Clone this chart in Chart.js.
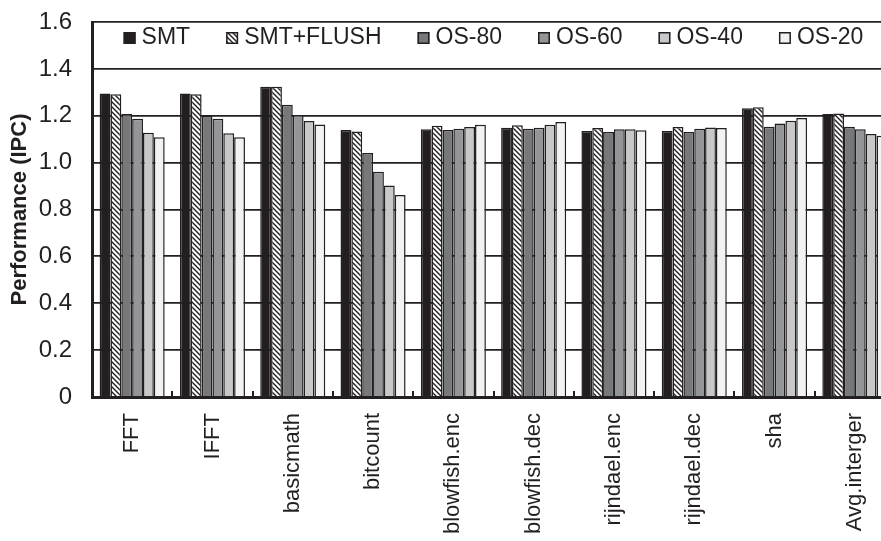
<!DOCTYPE html>
<html>
<head>
<meta charset="utf-8">
<script src="https://cdn.jsdelivr.net/npm/chart.js@4"></script>
<style>
    html, body { margin: 0; padding: 0; background: #fff; overflow: hidden; }
    #wrap { width: 881px; height: 541px; overflow: hidden; }
</style>
</head>
<body>
<div id="wrap"><canvas id="perfChart" width="895" height="541"></canvas></div>
<script>
const categories = ['FFT', 'IFFT', 'basicmath', 'bitcount', 'blowfish.enc', 'blowfish.dec', 'rijndael.enc', 'rijndael.dec', 'sha', 'Avg.interger'];
const seriesNames = ['SMT', 'SMT+FLUSH', 'OS-80', 'OS-60', 'OS-40', 'OS-20'];
const smt      = [1.295, 1.295, 1.324, 1.139, 1.142, 1.149, 1.135, 1.135, 1.232, 1.207];
const smtFlush = [1.292, 1.292, 1.324, 1.133, 1.157, 1.159, 1.148, 1.152, 1.236, 1.210];
const os80     = [1.208, 1.199, 1.247, 1.041, 1.139, 1.145, 1.131, 1.131, 1.153, 1.153];
const os60     = [1.187, 1.187, 1.203, 0.961, 1.145, 1.149, 1.142, 1.145, 1.167, 1.142];
const os40     = [1.127, 1.125, 1.178, 0.902, 1.152, 1.162, 1.142, 1.150, 1.179, 1.122];
const os20     = [1.108, 1.108, 1.163, 0.862, 1.162, 1.173, 1.138, 1.148, 1.190, 1.115];
const yTicks = [0, 0.2, 0.4, 0.6, 0.8, 1.0, 1.2, 1.4, 1.6];

const ink = '#231f20';
const FONT = '"Liberation Sans", Arial, sans-serif';

// diagonal hatch for SMT+FLUSH
function makeHatch() {
    const c = document.createElement('canvas');
    c.width = 5; c.height = 5;
    const g = c.getContext('2d');
    g.fillStyle = '#fff';
    g.fillRect(0, 0, 5, 5);
    g.strokeStyle = ink;
    g.lineWidth = 1.4;
    g.beginPath();
    g.moveTo(-1, -1); g.lineTo(6, 6);
    g.moveTo(-1, 4); g.lineTo(1, 6);
    g.moveTo(4, -1); g.lineTo(6, 1);
    g.stroke();
    return g.createPattern(c, 'repeat');
}
const hatch = makeHatch();
const fills = [ink, hatch, '#77787b', '#939598', '#c7c8ca', '#f1f2f2'];
const values = [smt, smtFlush, os80, os60, os40, os20];

// legend drawn inside the plot, between 1.6 and 1.4
const insideLegend = {
    id: 'insideLegend',
    afterDraw(chart) {
        const { ctx, chartArea } = chart;
        ctx.save();
        ctx.font = '23px ' + FONT;
        const box = 12, gapBox = 6, gapItem = 36;
        const widths = seriesNames.map(n => box + gapBox + ctx.measureText(n).width);
        const total = widths.reduce((a, b) => a + b, 0) + gapItem * (widths.length - 1);
        let x = (chartArea.left + chartArea.right) / 2 - total / 2;
        const base = chartArea.top + 22;
        seriesNames.forEach((n, i) => {
            ctx.fillStyle = fills[i];
            ctx.fillRect(x, base - box, box, box);
            ctx.strokeStyle = ink;
            ctx.lineWidth = 1.5;
            ctx.strokeRect(x + 0.75, base - box + 0.75, box - 1.5, box - 1.5);
            ctx.fillStyle = ink;
            ctx.textBaseline = 'alphabetic';
            ctx.fillText(n, x + box + gapBox, base);
            x += widths[i] + gapItem;
        });
        ctx.restore();
    }
};

// short inside tick marks between groups
const groupTicks = {
    id: 'groupTicks',
    afterDatasetsDraw(chart) {
        const { ctx, scales } = chart;
        const xs = scales.x, bottom = chart.chartArea.bottom;
        const step = xs.getPixelForValue(1) - xs.getPixelForValue(0);
        ctx.save();
        ctx.strokeStyle = ink;
        ctx.lineWidth = 2;
        ctx.beginPath();
        for (let i = 1; i < categories.length; i++) {
            const px = Math.round(xs.getPixelForValue(i) - step / 2);
            ctx.moveTo(px, bottom);
            ctx.lineTo(px, bottom - 6);
        }
        ctx.stroke();
        ctx.restore();
    }
};

new Chart(document.getElementById('perfChart'), {
    type: 'bar',
    data: {
        labels: categories,
        datasets: seriesNames.map((n, i) => ({
            label: n,
            data: values[i],
            backgroundColor: fills[i],
            borderColor: ink,
            borderWidth: 1.5,
            categoryPercentage: 0.81,
            barPercentage: 1.0
        }))
    },
    options: {
        responsive: false,
        animation: false,
        layout: { padding: { top: 22, left: 0, right: 0, bottom: 0 } },
        plugins: { legend: { display: false }, tooltip: { enabled: false } },
        scales: {
            x: {
                grid: { display: false },
                border: { color: ink, width: 3 },
                ticks: {
                    color: ink, font: { family: FONT, size: 22 },
                    minRotation: 90, maxRotation: 90, padding: 8, autoSkip: false
                },
                afterFit: s => { s.height = 144; s.paddingLeft = 0; s.paddingRight = 0; }
            },
            y: {
                min: 0, max: 1.6,
                afterBuildTicks: s => { s.ticks = yTicks.map(v => ({ value: v })); },
                grid: { color: ink, lineWidth: 1.8, drawTicks: false },
                border: { color: ink, width: 3 },
                ticks: {
                    color: ink, font: { family: FONT, size: 24 }, padding: 20,
                    callback: v => v === 0 ? '0' : v.toFixed(1)
                },
                title: {
                    display: true, text: 'Performance (IPC)', color: ink,
                    font: { family: FONT, size: 22, weight: 'bold' }, padding: { top: 7, bottom: 0 }
                },
                afterFit: s => { s.width = 92; s.paddingTop = 0; s.paddingBottom = 0; }
            }
        }
    },
    plugins: [insideLegend, groupTicks]
});
</script>
</body>
</html>
